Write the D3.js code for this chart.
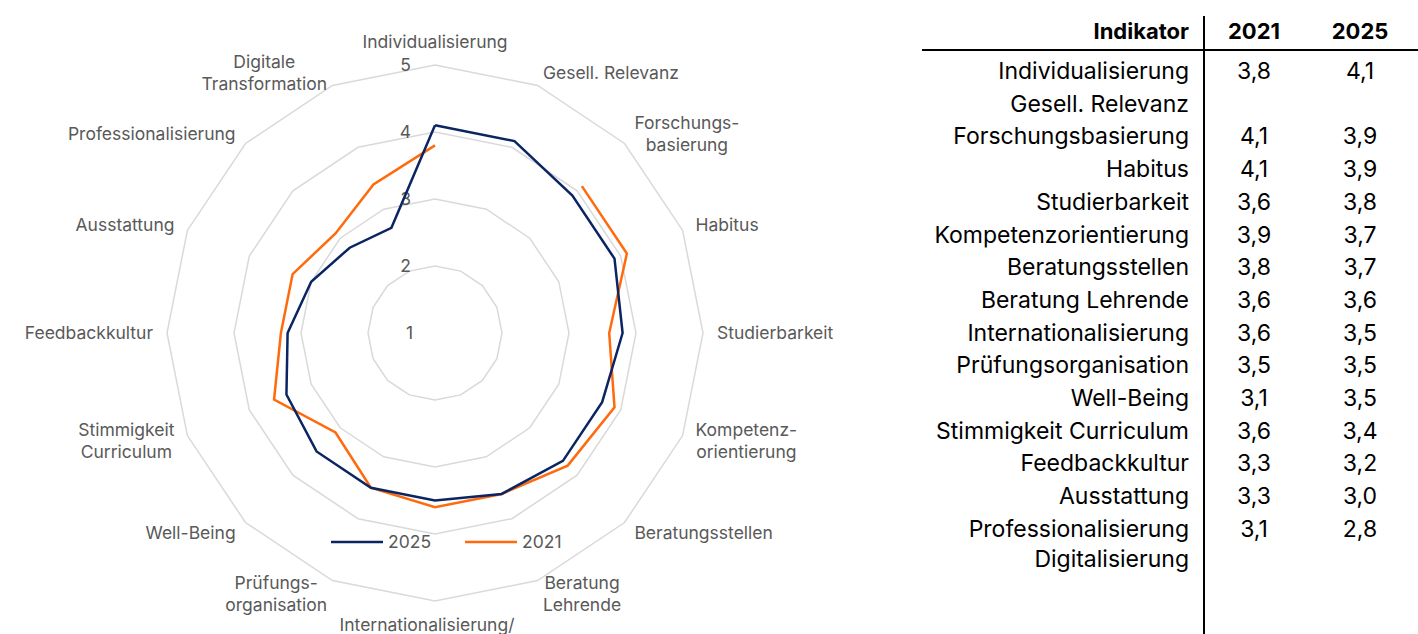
<!DOCTYPE html>
<html>
<head>
<meta charset="utf-8">
<script src="https://cdn.jsdelivr.net/npm/d3@7"></script>
<style>
  html, body { margin: 0; padding: 0; background: #fff; }
  svg { display: block; font-family: Inter, "Noto Sans", sans-serif; }
</style>
</head>
<body>
<div id="chart"></div>
<script>
// radar axes, clockwise from top
const axisLabels = [
  ['Individualisierung'],
  ['Gesell. Relevanz'],
  ['Forschungs-', 'basierung'],
  ['Habitus'],
  ['Studierbarkeit'],
  ['Kompetenz-', 'orientierung'],
  ['Beratungsstellen'],
  ['Beratung', 'Lehrende'],
  ['Internationalisierung/'],
  ['Prüfungs-', 'organisation'],
  ['Well-Being'],
  ['Stimmigkeit', 'Curriculum'],
  ['Feedbackkultur'],
  ['Ausstattung'],
  ['Professionalisierung'],
  ['Digitale', 'Transformation']
];
const values2025 = [4.1, 4.1, 3.9, 3.9, 3.8, 3.7, 3.7, 3.6, 3.5, 3.5, 3.5, 3.4, 3.2, 3.0, 2.8, 2.7];
const values2021 = [3.8, null, 4.1, 4.1, 3.6, 3.9, 3.8, 3.6, 3.6, 3.5, 3.1, 3.6, 3.3, 3.3, 3.1, 3.4];
const ringTicks = [1, 2, 3, 4, 5];

// table on the right
const tableHeader = ['Indikator', '2021', '2025'];
const tableNames = ['Individualisierung', 'Gesell. Relevanz', 'Forschungsbasierung', 'Habitus',
  'Studierbarkeit', 'Kompetenzorientierung', 'Beratungsstellen', 'Beratung Lehrende',
  'Internationalisierung', 'Prüfungsorganisation', 'Well-Being', 'Stimmigkeit Curriculum',
  'Feedbackkultur', 'Ausstattung', 'Professionalisierung', 'Digitalisierung'];
const table2021 = ['3,8', '', '4,1', '4,1', '3,6', '3,9', '3,8', '3,6', '3,6', '3,5', '3,1', '3,6', '3,3', '3,3', '3,1', ''];
const table2025 = ['4,1', '', '3,9', '3,9', '3,8', '3,7', '3,7', '3,6', '3,5', '3,5', '3,5', '3,4', '3,2', '3,0', '2,8', ''];

const series = [
  { name: '2025', values: values2025, color: '#0b2563' },
  { name: '2021', values: values2021, color: '#ff6a0d' }
];

const W = 1418, H = 634;
const cx = 435, cy = 333;
const GRID = '#d9d9d9', TEXT = '#595959';
const FS = 17.5;

const svg = d3.select('#chart').append('svg')
  .attr('width', W)
  .attr('height', H)
  .attr('viewBox', `0 0 ${W} ${H}`);

const r = d3.scaleLinear().domain([1, 5]).range([0, 268]);
const n = axisLabels.length;
const angle = d3.scaleLinear().domain([0, n]).range([0, 2 * Math.PI]);

const radar = svg.append('g').attr('transform', `translate(${cx},${cy})`);

// grid rings (polygons)
const ring = d3.lineRadial()
  .angle((d, i) => angle(i))
  .radius(d => r(d))
  .curve(d3.curveLinearClosed);

radar.append('g')
  .selectAll('path')
  .data(ringTicks.slice(1))
  .join('path')
  .attr('d', t => ring(d3.range(n).map(() => t)))
  .attr('fill', 'none')
  .attr('stroke', GRID)
  .attr('stroke-width', 1.5);

// tick labels along the top axis
radar.append('g')
  .selectAll('text')
  .data(ringTicks)
  .join('text')
  .attr('x', t => t === 1 ? -22 : -24)
  .attr('y', t => -r(t))
  .attr('dy', '0.35em')
  .attr('text-anchor', 'end')
  .attr('font-size', FS)
  .attr('fill', TEXT)
  .text(t => t);

// axis labels
const labelR = 282;
const lineH = 22;
const labels = radar.append('g')
  .attr('font-size', FS)
  .attr('fill', TEXT);

axisLabels.forEach((lines, i) => {
  const a = angle(i);
  const x = labelR * Math.sin(a);
  const y = -labelR * Math.cos(a);
  const g = labels.append('g');
  const texts = g.selectAll('text')
    .data(lines)
    .join('text')
    .attr('text-anchor', 'middle')
    .text(d => d);
  const widths = texts.nodes().map(node => node.getComputedTextLength());
  const blockW = d3.max(widths);
  const blockH = lines.length * lineH;
  const s = Math.round(Math.sin(a) * 1000) / 1000;
  const c = Math.round(Math.cos(a) * 1000) / 1000;
  let midX = x;
  if (s > 0.01) midX = x + blockW / 2;
  else if (s < -0.01) midX = x - blockW / 2;
  let top;
  if (Math.abs(s) < 0.01) top = c > 0 ? y - blockH + 2 : y - 1;
  else top = y - blockH / 2;
  if (i === 8) midX -= 8;
  texts
    .attr('x', midX)
    .attr('y', (d, k) => top + k * lineH + lineH / 2)
    .attr('dy', '0.35em');
});

// series lines
const seriesLine = d3.line()
  .defined(d => d.v != null)
  .x(d => r(d.v) * Math.sin(angle(d.i)))
  .y(d => -r(d.v) * Math.cos(angle(d.i)));

radar.append('g')
  .selectAll('path')
  .data(series.slice().reverse())
  .join('path')
  .attr('d', s => {
    const pts = s.values.map((v, i) => ({ v, i }));
    pts.push({ v: s.values[0], i: 0 });
    return seriesLine(pts);
  })
  .attr('fill', 'none')
  .attr('stroke', s => s.color)
  .attr('stroke-width', 2.5)
  .attr('stroke-linejoin', 'miter');

// legend
const legend = svg.append('g')
  .attr('transform', 'translate(331,542)');
const legendItem = legend.selectAll('g')
  .data(series)
  .join('g')
  .attr('transform', (d, i) => `translate(${i * 134},0)`);
legendItem.append('line')
  .attr('x1', 0).attr('x2', 52)
  .attr('stroke', d => d.color)
  .attr('stroke-width', 2.5);
legendItem.append('text')
  .attr('x', 57)
  .attr('dy', '0.35em')
  .attr('font-size', FS)
  .attr('fill', TEXT)
  .text(d => d.name);

// table
const table = svg.append('g')
  .attr('font-size', 23)
  .attr('fill', '#000');
const colName = 1189, col2021 = 1254, col2025 = 1360;

table.append('line')
  .attr('x1', 922).attr('x2', W)
  .attr('y1', 50).attr('y2', 50)
  .attr('stroke', '#000').attr('stroke-width', 2);
table.append('line')
  .attr('x1', 1204).attr('x2', 1204)
  .attr('y1', 16).attr('y2', H)
  .attr('stroke', '#000').attr('stroke-width', 2);

const headerG = table.append('g').attr('font-weight', 700).attr('font-size', 22);
headerG.append('text').attr('x', colName).attr('y', 31).attr('dy', '0.35em')
  .attr('text-anchor', 'end').text(tableHeader[0]);
headerG.append('text').attr('x', col2021).attr('y', 31).attr('dy', '0.35em')
  .attr('text-anchor', 'middle').text(tableHeader[1]);
headerG.append('text').attr('x', col2025).attr('y', 31).attr('dy', '0.35em')
  .attr('text-anchor', 'middle').text(tableHeader[2]);

const rowY = i => i < 15 ? 71 + i * 32.7 : 559;
const rows = table.append('g')
  .selectAll('g')
  .data(tableNames)
  .join('g')
  .attr('transform', (d, i) => `translate(0,${rowY(i)})`);
rows.append('text')
  .attr('x', colName).attr('dy', '0.35em')
  .attr('text-anchor', 'end')
  .text(d => d);
rows.append('text')
  .attr('x', col2021).attr('dy', '0.35em')
  .attr('text-anchor', 'middle')
  .text((d, i) => table2021[i]);
rows.append('text')
  .attr('x', col2025).attr('dy', '0.35em')
  .attr('text-anchor', 'middle')
  .text((d, i) => table2025[i]);
</script>
</body>
</html>
